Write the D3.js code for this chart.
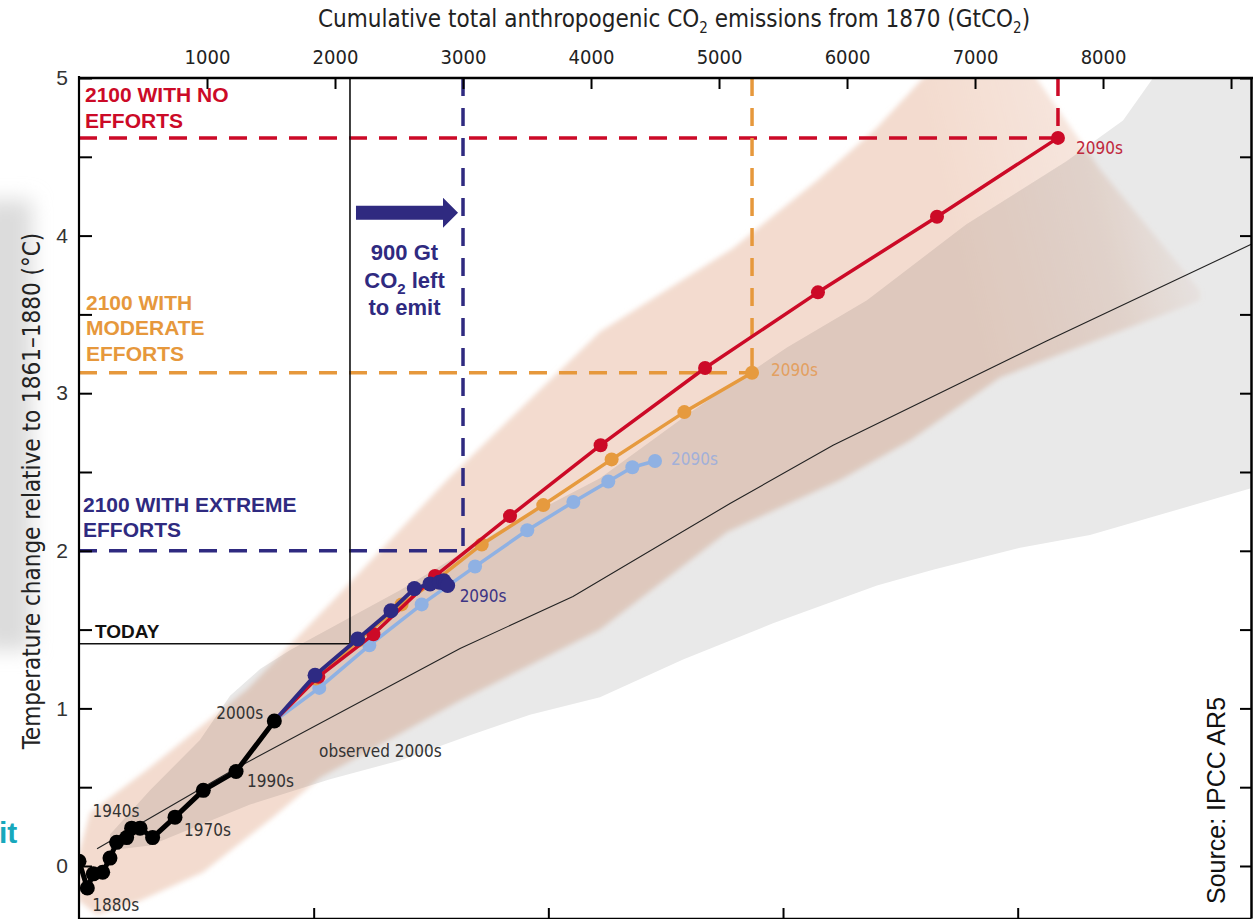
<!DOCTYPE html>
<html>
<head>
<meta charset="utf-8">
<title>Cumulative CO2 emissions and warming</title>
<script src="https://cdn.jsdelivr.net/npm/d3@7"></script>
<style>
  html, body { margin: 0; padding: 0; background: #fff; }
  svg { display: block; }
  .cond { font-family: "Liberation Sans Narrow", "DejaVu Sans Condensed", "Liberation Sans", sans-serif; }
  .bold { font-family: "Liberation Sans", Arial, sans-serif; font-weight: bold; }
  .axis path, .axis line { fill: none; stroke: #000; }
</style>
</head>
<body>
<svg id="chart" width="1253" height="919"></svg>
<script>
// ---- data (GtCO2, degC) ----
var histEmis = [0, 65, 112, 185, 242, 294, 372, 411, 477, 575, 750, 971, 1227, 1526];
var histTemp = [0.03, -0.14, -0.05, -0.04, 0.05, 0.15, 0.18, 0.24, 0.24, 0.18, 0.31, 0.48, 0.60, 0.92];
var histLabels = {1: "1880s", 7: "1940s", 10: "1970s", 12: "1990s", 13: "2000s"};

var decades = ["2000s","2010s","2020s","2030s","2040s","2050s","2060s","2070s","2080s","2090s"];
var redEmis    = [1526, 1870, 2300, 2781, 3367, 4075, 4891, 5773, 6703, 7648];
var redTemp    = [0.92, 1.20, 1.47, 1.84, 2.22, 2.67, 3.16, 3.64, 4.12, 4.62];
var orangeEmis = [1526, 1850, 2180, 2520, 2800, 3146, 3627, 4161, 4729, 5258];
var orangeTemp = [0.92, 1.19, 1.43, 1.66, 1.82, 2.04, 2.29, 2.58, 2.88, 3.13];
var lblueEmis  = [1526, 1877, 2268, 2677, 3094, 3502, 3862, 4135, 4323, 4500];
var lblueTemp  = [0.92, 1.13, 1.40, 1.66, 1.90, 2.13, 2.31, 2.44, 2.53, 2.57];
var navyEmis   = [1526, 1844, 2177, 2437, 2620, 2742, 2815, 2850, 2864, 2880];
var navyTemp   = [0.92, 1.21, 1.44, 1.62, 1.76, 1.79, 1.80, 1.81, 1.79, 1.78];

// thin black line (1% per year runs)
var pctEmis = [141, 1227, 2977, 3859, 5086, 5891, 7555, 9172];
var pctTemp = [0.11, 0.62, 1.38, 1.71, 2.30, 2.67, 3.33, 3.95];

// model ranges (outline: upper edge then lower edge back)
var plumeEmis = [0, 86, 531, 1313, 2039, 2875, 3523, 4070, 5109, 5766, 6227, 6594, 7273, 7977, 8758,
                 8758, 7195, 6492, 5945, 5063, 4070, 2977, 1883, 1516, 969, 477, 141, 0];
var plumeTemp = [0.08, 0.34, 0.61, 1.12, 1.73, 2.45, 2.96, 3.39, 3.92, 4.35, 4.68, 5.00, 5.24, 4.42, 3.65,
                 3.59, 3.10, 2.70, 2.45, 2.12, 1.50, 1.05, 0.56, 0.31, -0.04, -0.22, -0.31, -0.22];
var greyEmis = [242, 555, 945, 1180, 1415, 1650, 2508, 3289, 4070, 4797, 5531, 6156, 6930, 7711, 8156, 8391, 8602, 9539,
                9539, 9172, 7898, 7352, 6672, 6234, 5422, 4719, 4070, 3523, 3055, 2508, 1961, 1336, 555, 242];
var greyTemp = [0.20, 0.48, 0.80, 1.08, 1.25, 1.37, 1.75, 2.13, 2.46, 2.89, 3.29, 3.59, 4.07, 4.47, 4.73, 5.00, 5.24, 5.24,
                2.48, 2.40, 2.10, 2.02, 1.88, 1.78, 1.54, 1.31, 1.07, 0.96, 0.83, 0.67, 0.55, 0.39, 0.13, 0.10];

var topTicks = [1000, 2000, 3000, 4000, 5000, 6000, 7000, 8000, 9000];
var topLabels = ["1000", "2000", "3000", "4000", "5000", "6000", "7000", "8000", ""];
var gtcTicks = [500, 1000, 1500, 2000];   // bottom axis, GtC
var tempTicks = [0, 0.5, 1, 1.5, 2, 2.5, 3, 3.5, 4, 4.5, 5];

var today = {emis: 2117, temp: 1.41};
var extremeTarget = {emis: 3000, temp: 2.0};

var svg = d3.select("#chart");
var x = d3.scaleLinear().domain([0, 9156]).range([79, 1251]);
var y = d3.scaleLinear().domain([-0.33, 5]).range([918, 78]);

var defs = svg.append("defs");
defs.append("clipPath").attr("id", "plot").append("rect")
    .attr("x", x(0)).attr("y", y(5)).attr("width", x(9156) - x(0)).attr("height", y(-0.33) - y(5));
defs.append("filter").attr("id", "soft").append("feGaussianBlur").attr("stdDeviation", 2.5);
defs.append("filter").attr("id", "blur").attr("x", "-50%").attr("width", "200%")
    .append("feGaussianBlur").attr("stdDeviation", 10);
var fade = defs.append("linearGradient").attr("id", "fade")
    .attr("gradientUnits", "userSpaceOnUse")
    .attr("x1", 960).attr("y1", 260).attr("x2", 1215).attr("y2", 200);
fade.append("stop").attr("offset", 0).attr("stop-color", "#f3dbcf").attr("stop-opacity", 1);
fade.append("stop").attr("offset", 0.55).attr("stop-color", "#f3dbcf").attr("stop-opacity", 0.7);
fade.append("stop").attr("offset", 1).attr("stop-color", "#f3dbcf").attr("stop-opacity", 0);

// left-edge smudge from the slide behind
svg.append("rect").attr("x", -20).attr("y", 200).attr("width", 52).attr("height", 450)
    .attr("fill", "#dcdcdc").attr("filter", "url(#blur)");
svg.append("text").attr("class", "bold").attr("x", -1).attr("y", 843)
    .attr("font-size", 30).attr("fill", "#17a8bc").text("it");

var plot = svg.append("g").attr("clip-path", "url(#plot)");

function pts(ex, tx) { return ex.map(function(d, i) { return [x(d), y(tx[i])]; }); }
var area = d3.line().curve(d3.curveLinearClosed);
var line = d3.line();

plot.append("path").attr("d", area(pts(greyEmis, greyTemp))).attr("fill", "#e9e9e9");
plot.append("path").attr("d", area(pts(plumeEmis, plumeTemp)))
    .attr("fill", "url(#fade)").attr("filter", "url(#soft)")
    .style("mix-blend-mode", "multiply");

plot.append("path").attr("d", line(pts(pctEmis, pctTemp)))
    .attr("fill", "none").attr("stroke", "#222").attr("stroke-width", 1.1);

// guide lines
function guide(e, t, color) {
  plot.append("path").attr("d", line([[x(0), y(t)], [x(e), y(t)]]))
      .attr("stroke", color).attr("stroke-width", 3.5).attr("stroke-dasharray", "18,12").attr("fill", "none");
  plot.append("path").attr("d", line([[x(e), y(5)], [x(e), y(t)]]))
      .attr("stroke", color).attr("stroke-width", 3.5).attr("stroke-dasharray", "18,12").attr("fill", "none");
}
guide(redEmis[9], redTemp[9], "#cc0a27");
guide(orangeEmis[9], orangeTemp[9], "#e6983c");
guide(extremeTarget.emis, extremeTarget.temp, "#2f2a80");

plot.append("path").attr("d", line([[x(0), y(today.temp)], [x(today.emis), y(today.temp)], [x(today.emis), y(5)]]))
    .attr("fill", "none").attr("stroke", "#111").attr("stroke-width", 1.6);

// scenario series
function series(ex, tx, color, lw, r) {
  var p = pts(ex, tx);
  plot.append("path").attr("d", line(p)).attr("fill", "none")
      .attr("stroke", color).attr("stroke-width", lw).attr("stroke-linejoin", "round");
  plot.selectAll(null).data(p.slice(1)).enter().append("circle")
      .attr("cx", function(d) { return d[0]; }).attr("cy", function(d) { return d[1]; })
      .attr("r", r).attr("fill", color);
}
series(lblueEmis, lblueTemp, "#8fb1e3", 3.5, 7);
series(orangeEmis, orangeTemp, "#e69a3e", 3.5, 7);
series(redEmis, redTemp, "#cc0a27", 3.5, 7);
series(navyEmis, navyTemp, "#2e2a83", 4, 7.5);

var hp = pts(histEmis, histTemp);
plot.append("path").attr("d", line(hp)).attr("fill", "none")
    .attr("stroke", "#000").attr("stroke-width", 5).attr("stroke-linejoin", "round");
plot.selectAll(null).data(hp).enter().append("circle")
    .attr("cx", function(d) { return d[0]; }).attr("cy", function(d) { return d[1]; })
    .attr("r", 7.5).attr("fill", "#000");

// decade labels
var histOff = {1: [5, 23], 7: [-39, -11], 10: [9, 19], 12: [11, 16], 13: [-58, -2]};
Object.keys(histLabels).forEach(function(k) {
  svg.append("text").attr("class", "cond").attr("font-size", 17).attr("fill", "#333")
     .attr("x", hp[k][0] + histOff[k][0]).attr("y", hp[k][1] + histOff[k][1]).text(histLabels[k]);
});
svg.append("text").attr("class", "cond").attr("font-size", 17).attr("fill", "#333")
   .attr("x", x(pctEmis[2]) - 141).attr("y", y(pctTemp[2]) + 108).text("observed 2000s");

function endLabel(ex, tx, color, dx, dy) {
  svg.append("text").attr("class", "cond").attr("font-size", 17).attr("fill", color)
     .attr("x", x(ex[9]) + dx).attr("y", y(tx[9]) + dy).text(decades[9]);
}
endLabel(redEmis, redTemp, "#c0283c", 18, 16);
endLabel(orangeEmis, orangeTemp, "#e3a061", 19, 3);
endLabel(lblueEmis, lblueTemp, "#a2b0d9", 16, 4);
endLabel(navyEmis, navyTemp, "#3d3585", 12, 17);

// axes
var topAxis = d3.axisTop(x).tickValues(topTicks)
    .tickFormat(function(d, i) { return topLabels[i]; })
    .tickSize(-11).tickSizeOuter(0).tickPadding(14);
var gTop = svg.append("g").attr("class", "axis").attr("transform", "translate(0," + y(5) + ")").call(topAxis);
gTop.select(".domain").attr("stroke-width", 2.5).attr("d", "M" + (x(0) - 1) + ",0H1253");
gTop.selectAll("line").attr("stroke-width", 2);
gTop.selectAll("text").attr("class", "cond").attr("font-size", 20).attr("fill", "#222");

var leftAxis = d3.axisLeft(y).tickValues(tempTicks)
    .tickFormat(function(d) { return d % 1 === 0 ? d : ""; })
    .tickSize(-13).tickSizeOuter(0).tickPadding(11);
var gLeft = svg.append("g").attr("class", "axis").attr("transform", "translate(" + x(0) + ",0)").call(leftAxis);
gLeft.select(".domain").attr("stroke-width", 2.2).attr("d", "M0," + (y(5) - 2) + "V919");
gLeft.selectAll("line").attr("stroke-width", 2);
gLeft.selectAll("text").attr("font-family", "Liberation Sans, Arial, sans-serif")
    .attr("font-size", 21).attr("fill", "#333");

var rightAxis = d3.axisRight(y).tickValues(tempTicks).tickFormat("").tickSize(-11).tickSizeOuter(0);
var gRight = svg.append("g").attr("class", "axis").attr("transform", "translate(" + x(9156) + ",0)").call(rightAxis);
gRight.select(".domain").attr("stroke-width", 2.5);
gRight.selectAll("line").attr("stroke-width", 2);

var xc = d3.scaleLinear().domain([0, 9156 * 12 / 44]).range(x.range());
var bottomAxis = d3.axisBottom(xc).tickValues(gtcTicks).tickFormat("").tickSize(-10).tickSizeOuter(0);
var gBottom = svg.append("g").attr("class", "axis").attr("transform", "translate(0," + y(-0.33) + ")").call(bottomAxis);
gBottom.select(".domain").attr("stroke", "#999").attr("stroke-width", 1.5);
gBottom.selectAll("line").attr("stroke-width", 2);

// titles
var title = svg.append("text").attr("class", "cond").attr("font-size", 24).attr("fill", "#222")
    .attr("x", 674).attr("y", 27).attr("text-anchor", "middle");
title.append("tspan").text("Cumulative total anthropogenic CO");
title.append("tspan").attr("font-size", 15).attr("dy", 6).text("2");
title.append("tspan").attr("dy", -6).text(" emissions from 1870 (GtCO");
title.append("tspan").attr("font-size", 15).attr("dy", 6).text("2");
title.append("tspan").attr("dy", -6).text(")");

svg.append("text").attr("class", "cond").attr("font-size", 24).attr("fill", "#222")
   .attr("text-anchor", "middle").attr("transform", "translate(40," + 491 + ") rotate(-90)")
   .text("Temperature change relative to 1861\u20131880 (\u00b0C)");

svg.append("text").attr("font-family", "Liberation Sans, Arial, sans-serif").attr("font-size", 25)
   .attr("fill", "#111").attr("transform", "translate(1225,904) rotate(-90)").text("Source: IPCC AR5");

// annotations
function block(lines, color, x0, y0, lh, size) {
  lines.forEach(function(s, i) {
    svg.append("text").attr("class", "bold").attr("font-size", size).attr("fill", color)
       .attr("x", x0).attr("y", y0 + i * lh).text(s);
  });
}
block(["2100 WITH NO", "EFFORTS"], "#cc0a27", x(0) + 6, y(redTemp[9]) - 36, 26, 21);
block(["2100 WITH", "MODERATE", "EFFORTS"], "#e6983c", x(0) + 7, y(orangeTemp[9]) - 63, 25.5, 21);
block(["2100 WITH EXTREME", "EFFORTS"], "#2f2a80", x(0) + 4, y(extremeTarget.temp) - 39, 25, 21);
block(["TODAY"], "#111", x(0) + 16, y(today.temp) - 6, 0, 19);

// 900 Gt arrow
var ay = y(4.145);
var ax0 = x(today.emis) + 6, ax1 = x(extremeTarget.emis) - 5;
svg.append("path").attr("fill", "#2f2a80")
   .attr("d", "M" + ax0 + "," + (ay - 7) + "H" + (ax1 - 15) + "V" + (ay - 15) + "L" + ax1 + "," + ay +
              "L" + (ax1 - 15) + "," + (ay + 15) + "V" + (ay + 7) + "H" + ax0 + "Z");
var mid = (x(today.emis) + x(extremeTarget.emis)) / 2 - 2;
svg.append("text").attr("class", "bold").attr("font-size", 22).attr("fill", "#2f2a80")
   .attr("text-anchor", "middle").attr("x", mid).attr("y", 260).text("900 Gt");
var co = svg.append("text").attr("class", "bold").attr("font-size", 22).attr("fill", "#2f2a80")
   .attr("text-anchor", "middle").attr("x", mid).attr("y", 288);
co.append("tspan").text("CO");
co.append("tspan").attr("font-size", 15).attr("dy", 6).text("2");
co.append("tspan").attr("dy", -6).text(" left");
svg.append("text").attr("class", "bold").attr("font-size", 22).attr("fill", "#2f2a80")
   .attr("text-anchor", "middle").attr("x", mid).attr("y", 315).text("to emit");
</script>
</body>
</html>
